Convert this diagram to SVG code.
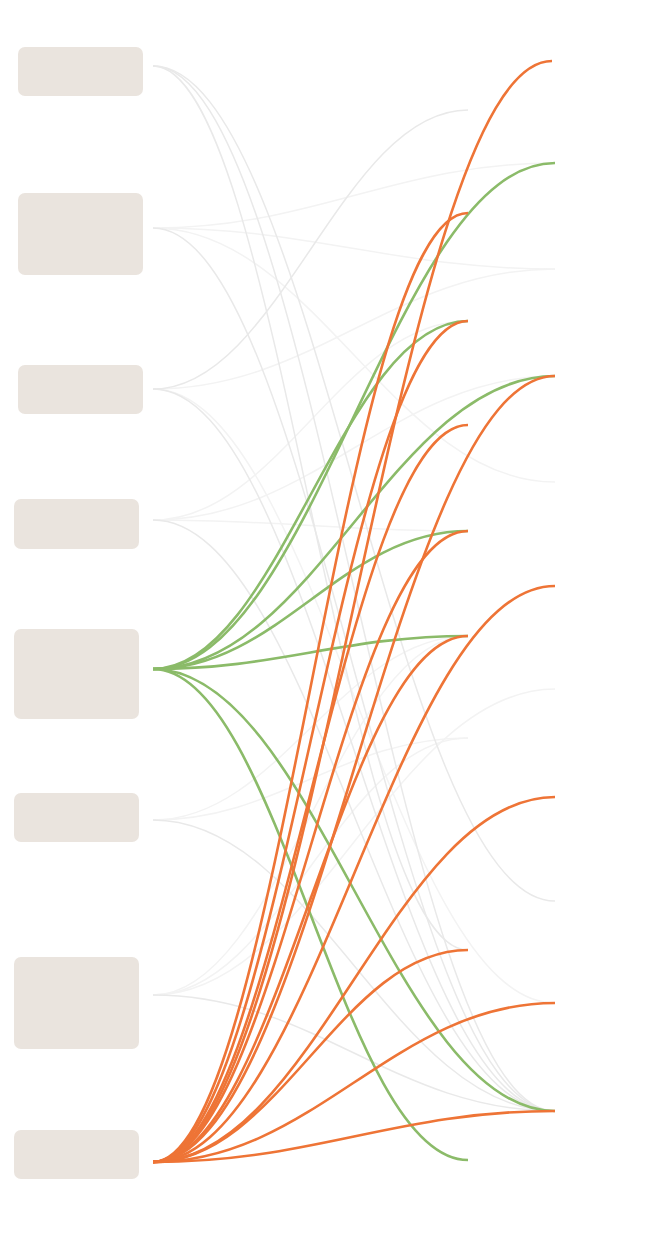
<svg xmlns="http://www.w3.org/2000/svg" width="660" height="1240" viewBox="0 0 660 1240">
<style>
.node{fill:#EAE4DE}
.l{fill:none;stroke-linecap:butt}
.g1{stroke:#E9E9E9;stroke-width:1.5}
.g2{stroke:#F3F3F3;stroke-width:1.5}
.gr{stroke:#8BBB69;stroke-width:2.6}
.or{stroke:#EE7436;stroke-width:2.6}
</style>
<rect width="660" height="1240" fill="#FFFFFF"/>
<g id="n1"><rect class="node" x="18" y="47" width="125" height="49" rx="7"/></g>
<g id="n2"><rect class="node" x="18" y="193" width="125" height="82" rx="7"/></g>
<g id="n3"><rect class="node" x="18" y="365" width="125" height="49" rx="7"/></g>
<g id="n4"><rect class="node" x="14" y="499" width="125" height="50" rx="7"/></g>
<g id="n5"><rect class="node" x="14" y="629" width="125" height="90" rx="7"/></g>
<g id="n6"><rect class="node" x="14" y="793" width="125" height="49" rx="7"/></g>
<g id="n7"><rect class="node" x="14" y="957" width="125" height="92" rx="7"/></g>
<g id="n8"><rect class="node" x="14" y="1130" width="125" height="49" rx="7"/></g>
<g id="connectors">
<g class="l g2">
<path d="M153 228 C313.8 228 394.2 163 555 163"/>
<path d="M153 228 C313.8 228 394.2 269 555 269"/>
<path d="M153 228 C313.8 228 394.2 482 555 482"/>
<path d="M153 389 C313.8 389 394.2 269 555 269"/>
<path d="M153 389 C313.8 389 394.2 1003 555 1003"/>
<path d="M153 520 C279 520 342 321 468 321"/>
<path d="M153 520 C313.8 520 394.2 376 555 376"/>
<path d="M153 520 C279 520 342 531 468 531"/>
<path d="M153 820 C279 820 342 738 468 738"/>
<path d="M153 820 C279 820 342 636 468 636"/>
<path d="M153 995 C313.8 995 394.2 689 555 689"/>
<path d="M153 995 C279 995 342 738 468 738"/>
<path d="M153 995 C279 995 342 636 468 636"/>
</g>
<g class="l g1">
<path d="M153 66 C279 66 342 950 468 950"/>
<path d="M153 66 C313.8 66 394.2 1111 555 1111"/>
<path d="M153 66 C313.8 66 394.2 901 555 901"/>
<path d="M153 228 C313.8 228 394.2 1111 555 1111"/>
<path d="M153 389 C279 389 342 110 468 110"/>
<path d="M153 389 C313.8 389 394.2 1111 555 1111"/>
<path d="M153 520 C313.8 520 394.2 1111 555 1111"/>
<path d="M153 820 C313.8 820 394.2 1111 555 1111"/>
<path d="M153 995 C313.8 995 394.2 1111 555 1111"/>
</g>
<g class="l gr">
<path d="M153 669 C313.8 669 394.2 163 555 163"/>
<path d="M153 669 C279 669 342 321 468 321"/>
<path d="M153 669 C313.8 669 394.2 376 555 376"/>
<path d="M153 669 C279 669 342 531 468 531"/>
<path d="M153 669 C279 669 342 636 468 636"/>
<path d="M153 669 C313.8 669 394.2 1111 555 1111"/>
<path d="M153 669 C279 669 342 1160 468 1160"/>
</g>
<g class="l or">
<path d="M153 1162 C279 1162 342 213 468 213"/>
<path d="M153 1162 C279 1162 342 321 468 321"/>
<path d="M153 1162 C279 1162 342 425 468 425"/>
<path d="M153 1162 C279 1162 342 531 468 531"/>
<path d="M153 1162 C279 1162 342 636 468 636"/>
<path d="M153 1162 C279 1162 342 950 468 950"/>
<path d="M153 1162 C312.6 1162 392.4 61 552 61"/>
<path d="M153 1162 C313.8 1162 394.2 376 555 376"/>
<path d="M153 1162 C313.8 1162 394.2 586 555 586"/>
<path d="M153 1162 C313.8 1162 394.2 797 555 797"/>
<path d="M153 1162 C313.8 1162 394.2 1003 555 1003"/>
<path d="M153 1162 C313.8 1162 394.2 1111 555 1111"/>
</g>
</g>
</svg>
